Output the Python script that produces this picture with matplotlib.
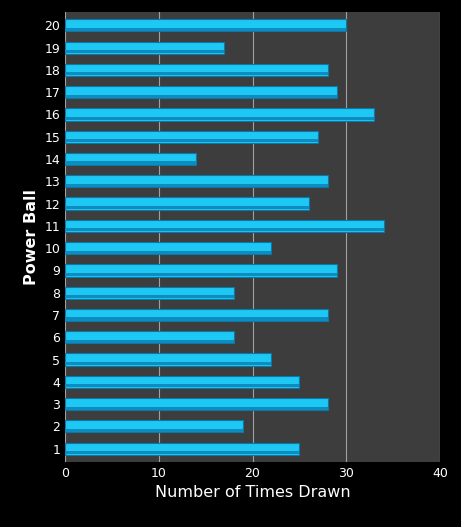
import matplotlib.pyplot as plt

balls = list(range(1, 21))
counts = [25, 19, 28, 25, 22, 18, 28, 18, 29, 22, 34, 26, 28, 14, 27, 33, 29, 28, 17, 30]

fig = plt.figure(figsize=(4.61, 5.27), dpi=100, facecolor="black")
ax = fig.add_axes([65 / 461, 1 - 462 / 527, 375 / 461, 450 / 527])
ax.set_facecolor("#3d3d3d")

# main bar plus a darker lower strip for a little shading
ax.barh(balls, counts, height=0.55, color="#1ec8f5", edgecolor="#0b78a8", linewidth=0.8, zorder=3)
ax.barh([b - 0.18 for b in balls], counts, height=0.14, color="#0e8cc0", linewidth=0, zorder=4)

ax.set_xlim(0, 40)
ax.set_ylim(0.4, 20.6)
ax.set_xticks([0, 10, 20, 30, 40])
ax.set_yticks(balls)
ax.grid(axis="x", color="#a0a0a0", linewidth=0.8, zorder=0)
for s in ax.spines.values():
    s.set_visible(False)
ax.tick_params(colors="white", length=0, labelsize=9)
ax.set_xlabel("Number of Times Drawn", color="white", fontsize=11.5)
ax.set_ylabel("Power Ball", color="white", fontsize=11.5, fontweight="bold")

fig.savefig("out.png", dpi=100, facecolor="black")
